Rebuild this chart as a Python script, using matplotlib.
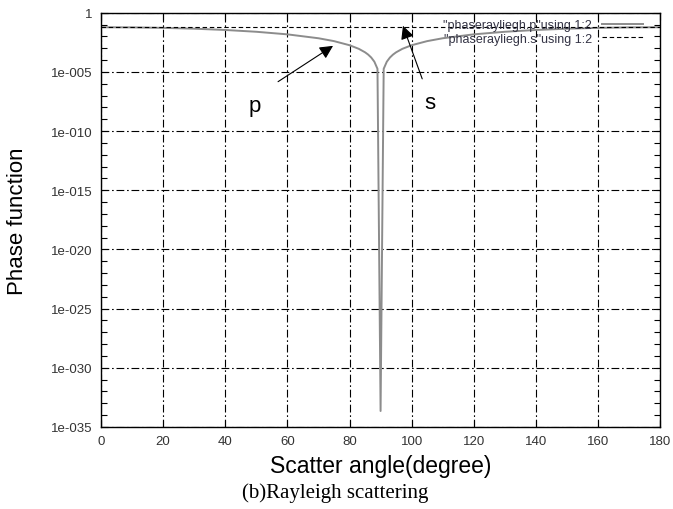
import numpy as np
import matplotlib.pyplot as plt
from matplotlib.ticker import FixedLocator, FixedFormatter

# ----------------------------
# Data: Rayleigh phase function vs scatter angle
# ----------------------------

angle = [0, 10, 20, 30, 40, 50, 60, 70, 75, 80, 83, 85, 86, 87, 88, 89, 90,
         91, 92, 93, 94, 95, 97, 100, 105, 110, 120, 130, 140, 150, 160, 170, 180]
phase_p = [0.0600, 0.0582, 0.0530, 0.0450, 0.0352, 0.0248, 0.0150, 0.00702, 0.00402,
           0.00181, 0.000893, 0.000456, 0.000292, 0.000164, 7.31e-5, 1.83e-5, 2.2e-34,
           1.83e-5, 7.31e-5, 0.000164, 0.000292, 0.000456, 0.000893, 0.00181, 0.00402,
           0.00702, 0.0150, 0.0248, 0.0352, 0.0450, 0.0530, 0.0582, 0.0600]

angle_s = [0, 180]
phase_s = [0.06, 0.06]

xticks = [0, 20, 40, 60, 80, 100, 120, 140, 160, 180]
yticks = [1, 1e-5, 1e-10, 1e-15, 1e-20, 1e-25, 1e-30, 1e-35]
ytick_labels = ['1', '1e-005', '1e-010', '1e-015', '1e-020', '1e-025', '1e-030', '1e-035']
yminor = [10.0 ** -k for k in range(36)]

legend_p = '"phaserayliegh.p"using 1:2'
legend_s = '"phaserayliegh.s"using 1:2'

# ----------------------------
# Plot
# ----------------------------

plt.rcParams['font.family'] = ['Liberation Sans', 'DejaVu Sans']

fig = plt.figure(figsize=(6.73, 5.10), dpi=100)
ax = fig.add_axes([0.150, 0.161, 0.831, 0.812])

dashdot = (0, (7, 2.5, 1.5, 2.5))

ax.plot(angle, phase_p, color='#8c8c8c', linewidth=1.4, label=legend_p)
ax.plot(angle_s, phase_s, color='black', linewidth=0.8, linestyle=(0, (4, 2.5)), label=legend_s)

ax.set_yscale('log')
ax.set_xlim(0, 180)
ax.set_ylim(1e-35, 1)

ax.xaxis.set_major_locator(FixedLocator(xticks))
ax.yaxis.set_major_locator(FixedLocator(yticks))
ax.yaxis.set_major_formatter(FixedFormatter(ytick_labels))
ax.yaxis.set_minor_locator(FixedLocator(yminor))
ax.yaxis.set_minor_formatter(FixedFormatter([]))

ax.tick_params(which='both', direction='in', top=True, right=True, colors='black',
               labelcolor='#333333', labelsize=9.5, width=0.8)
ax.tick_params(which='major', length=5, pad=6)
ax.tick_params(which='minor', length=4)

ax.grid(True, which='major', color='black', linewidth=0.8, linestyle=dashdot)
for s in ax.spines.values():
    s.set_linewidth(1.0)

ax.set_xlabel('Scatter angle(degree)', fontsize=16.5)
ax.set_ylabel('Phase function', fontsize=16)
ax.xaxis.set_label_coords(0.5, -0.066)
ax.yaxis.set_label_coords(-0.13, 0.5)

# arrows pointing at the two curves
arrow = dict(arrowstyle='-|>', mutation_scale=20, lw=0.8, color='black', shrinkA=0, shrinkB=0)
ax.annotate('', xy=(74.7, 1.6e-3), xytext=(57.0, 1.5e-6), arrowprops=arrow)
ax.annotate('', xy=(97.2, 0.08), xytext=(103.4, 2.6e-6), arrowprops=arrow)
ax.text(49.6, 1.4e-8, 'p', fontsize=16, ha='center', va='center')
ax.text(105.9, 2.5e-8, 's', fontsize=16, ha='center', va='center')

ax.legend(loc='upper right', bbox_to_anchor=(0.9696, 0.985), frameon=False,
          markerfirst=False, fontsize=9, handlelength=3.3, handletextpad=0.8,
          labelspacing=0.15, borderpad=0, borderaxespad=0, labelcolor='#333344')

fig.text(0.498, 0.034, '(b)Rayleigh scattering', fontsize=15, ha='center', va='center',
         family=['Liberation Serif', 'DejaVu Serif'])

plt.savefig('out.png', dpi=100)
